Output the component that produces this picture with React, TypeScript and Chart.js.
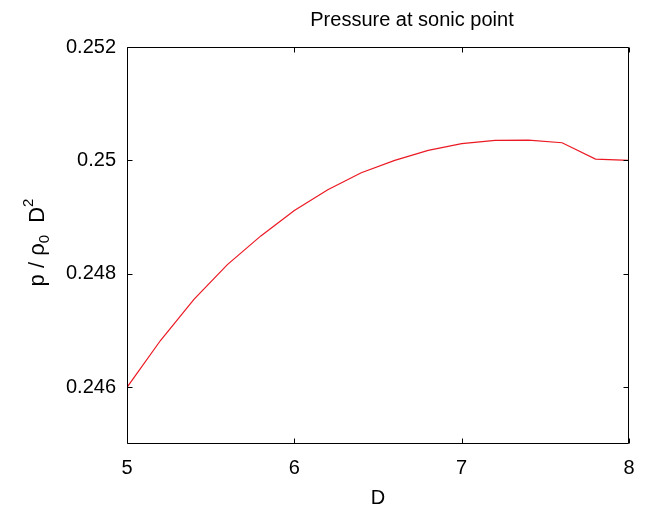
import React, { useEffect, useRef } from "react";
import { Chart, registerables } from "chart.js";

Chart.register(...registerables);

const dValues = [5.0, 5.2, 5.4, 5.6, 5.8, 6.0, 6.2, 6.4, 6.6, 6.8, 7.0, 7.2, 7.4, 7.6, 7.8, 8.0];
const pressure = [
  0.246, 0.246825, 0.247549, 0.248162, 0.248669, 0.249116, 0.249482, 0.249782,
  0.25, 0.250177, 0.250295, 0.250353, 0.250359, 0.250312, 0.250024, 0.25,
];
const xTicks = [5, 6, 7, 8];
const yTicks = [0.246, 0.248, 0.25, 0.252];
const titleText = "Pressure at sonic point";
const xLabel = "D";

const FONT = "'Liberation Sans', Arial, Helvetica, sans-serif";

const decorPlugin = {
  id: "matlabDecor",
  afterDraw(chart: any) {
    const ctx = chart.ctx as CanvasRenderingContext2D;
    const { left, right, top, bottom } = chart.chartArea;
    const xs = chart.scales.x;
    const ys = chart.scales.y;
    ctx.save();
    ctx.strokeStyle = "#000";
    ctx.lineWidth = 1;
    const L = Math.round(left) + 0.5;
    const R = Math.round(right) - 0.5;
    const T = Math.round(top) + 0.5;
    const B = Math.round(bottom) - 0.5;
    ctx.beginPath();
    ctx.rect(L, T, R - L, B - T);
    ctx.stroke();
    const tl = 5;
    ctx.beginPath();
    for (const v of xTicks) {
      const px = Math.round(xs.getPixelForValue(v)) + 0.5;
      ctx.moveTo(px, B);
      ctx.lineTo(px, B - tl);
      ctx.moveTo(px, T);
      ctx.lineTo(px, T + tl);
    }
    for (const v of yTicks) {
      const py = Math.round(ys.getPixelForValue(v)) + 0.5;
      ctx.moveTo(L, py);
      ctx.lineTo(L + tl, py);
      ctx.moveTo(R, py);
      ctx.lineTo(R - tl, py);
    }
    ctx.stroke();

    ctx.fillStyle = "#000";
    // title
    ctx.font = `20px ${FONT}`;
    ctx.textAlign = "center";
    ctx.textBaseline = "middle";
    ctx.fillText(titleText, 412, 20);
    // x label
    ctx.fillText(xLabel, (left + right) / 2, 498);

    // y label with sub/superscript
    ctx.translate(37, (top + bottom) / 2 - 3);
    ctx.rotate(-Math.PI / 2);
    ctx.textAlign = "left";
    ctx.textBaseline = "alphabetic";
    const big = `22px ${FONT}`;
    const small = `15px ${FONT}`;
    const parts: [string, string, number][] = [
      ["p / \u03C1", big, 0],
      ["0", small, 5],
      ["  D", big, 0],
      ["2", small, -11],
    ];
    let total = 0;
    for (const [t, f] of parts) {
      ctx.font = f;
      total += ctx.measureText(t).width;
    }
    let x = -total / 2;
    for (const [t, f, dy] of parts) {
      ctx.font = f;
      ctx.fillText(t, x, 7 + dy);
      x += ctx.measureText(t).width;
    }
    ctx.restore();
  },
};

export default function App() {
  const ref = useRef<HTMLCanvasElement>(null);
  useEffect(() => {
    if (!ref.current) return;
    const chart = new Chart(ref.current, {
      type: "line",
      data: {
        datasets: [
          {
            data: dValues.map((d, i) => ({ x: d, y: pressure[i] })),
            borderColor: "rgb(235,25,35)",
            borderWidth: 1.2,
            pointRadius: 0,
            fill: false,
            tension: 0,
          },
        ],
      },
      options: {
        animation: false,
        responsive: false,
        maintainAspectRatio: false,
        layout: { padding: { left: 0, right: 20, top: 47, bottom: 0 } },
        plugins: { legend: { display: false }, title: { display: false }, tooltip: { enabled: false } },
        scales: {
          x: {
            type: "linear",
            min: 5,
            max: 8,
            grid: { display: false, drawTicks: false },
            border: { display: false },
            afterBuildTicks: (s: any) => {
              s.ticks = xTicks.map((v) => ({ value: v }));
            },
            afterFit: (s: any) => {
              s.height = 72;
            },
            ticks: {
              padding: 12,
              maxRotation: 0,
              color: "#000",
              font: { family: FONT, size: 20 },
              callback: (v: any) => String(v),
            },
          },
          y: {
            type: "linear",
            min: 0.245,
            max: 0.252,
            grid: { display: false, drawTicks: false },
            border: { display: false },
            afterBuildTicks: (s: any) => {
              s.ticks = yTicks.map((v) => ({ value: v }));
            },
            afterFit: (s: any) => {
              s.width = 127;
            },
            ticks: {
              padding: 11,
              color: "#000",
              font: { family: FONT, size: 20 },
              callback: (v: any) => String(Number(Number(v).toFixed(3))),
            },
          },
        },
      },
      plugins: [decorPlugin],
    });
    return () => chart.destroy();
  }, []);
  return (
    <div style={{ position: "absolute", left: 0, top: 0, width: 649, height: 516, background: "#fff" }}>
      <canvas ref={ref} width={649} height={516} style={{ display: "block" }} />
    </div>
  );
}
